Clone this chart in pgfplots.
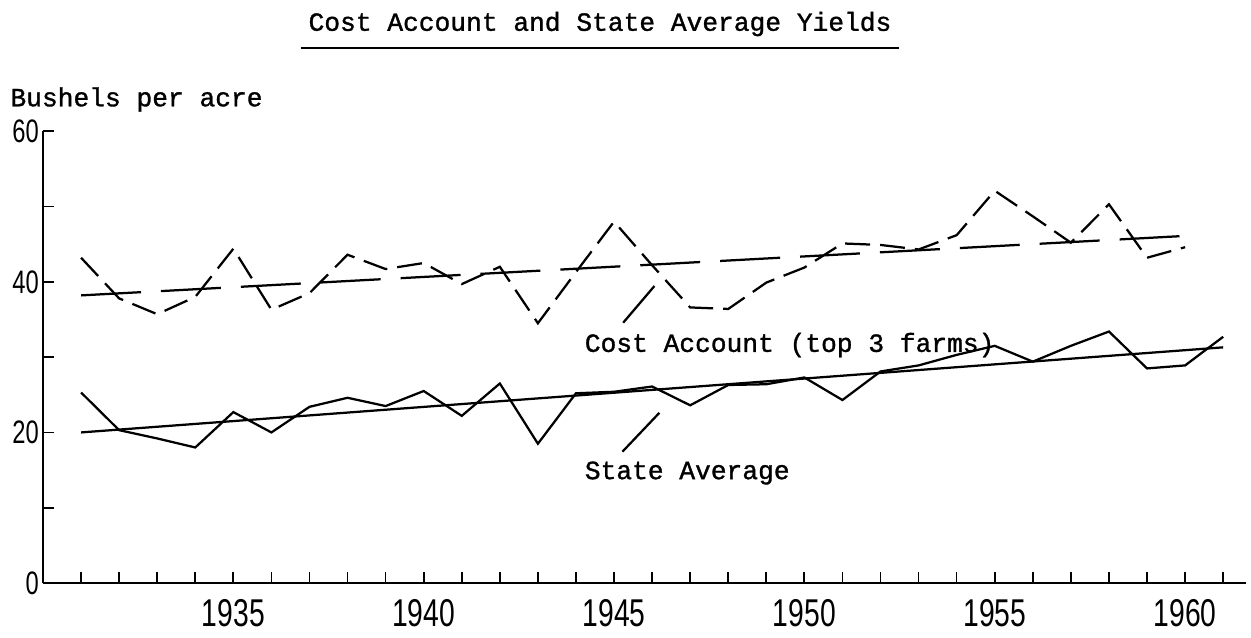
\documentclass[border=0pt]{standalone}
\usepackage{fontspec}
\setmainfont[FakeBold=1.2]{Liberation Mono}
\newfontfamily\tickfont[FakeStretch=0.73]{Liberation Sans}
\usepackage{pgfplots}
\usepackage{pgfplotstable}
\pgfplotsset{compat=1.18}

\pgfplotstableread{
year val
1931 25.3
1932 20.3
1933 19.2
1934 18.0
1935 22.7
1936 20.0
1937 23.4
1938 24.6
1939 23.5
1940 25.5
1941 22.2
1942 26.5
1943 18.5
1944 25.2
1945 25.4
1946 26.1
1947 23.6
1948 26.3
1949 26.4
1950 27.3
1951 24.3
1952 28.1
1953 28.9
1954 30.3
1955 31.5
1956 29.4
1957 31.5
1958 33.4
1959 28.5
1960 28.9
1961 32.7
}\stateavg

\pgfplotstableread{
year val
1931 43.2
1932 37.8
1933 35.7
1934 38.0
1935 44.4
1936 36.3
1937 38.5
1938 43.6
1939 41.7
1940 42.5
1941 39.7
1942 42.0
1943 34.5
1944 41.3
1945 48.0
1946 42.2
1947 36.6
1948 36.4
1949 39.9
1950 41.9
1951 45.1
1952 44.9
1953 44.3
1954 46.2
1955 52.1
1956 48.7
1957 45.2
1958 50.3
1959 43.2
1960 44.6
}\costacct

\begin{document}
\begin{tikzpicture}
\useasboundingbox (0,0) rectangle (500.4pt,254.8pt);
\begin{axis}[
  at={(17.2pt,21.6pt)}, anchor=south west,
  scale only axis, width=481.2pt, height=180.7pt,
  xmin=1930, xmax=1961.6, ymin=0, ymax=60,
  axis lines=left, axis line style={-, line width=0.8pt},
  clip=false,
  tick align=inside,
  major tick length=4.6pt, minor tick length=4.6pt,
  tick style={line width=0.7pt, black},
  xtick={1935,1940,...,1960}, minor xtick={1931,...,1961},
  ytick={0,20,40,60}, minor ytick={10,30,50},
  /pgf/number format/assume math mode=true,
  /pgf/number format/1000 sep={},
  xticklabel style={font=\tickfont\fontsize{15.5}{16}\selectfont, yshift=-3pt},
  yticklabel style={font=\tickfont\fontsize{13}{14}\selectfont, inner sep=0.5pt, xshift=-1pt},
]
\addplot[black, line width=0.9pt, line join=miter] table[x=year,y=val] {\stateavg};
\addplot[black, line width=0.9pt] coordinates {(1931,20.0) (1961,31.3)};
\addplot[black, line width=0.9pt, dash pattern=on 10pt off 4pt] table[x=year,y=val] {\costacct};
\addplot[black, line width=0.9pt, dash pattern=on 24pt off 8pt] coordinates {(1931,38.2) (1960,46.1)};
% label pointers
\addplot[black, line width=0.9pt] coordinates {(1945.22,17.44) (1946.19,22.6)};
\addplot[black, line width=0.9pt] coordinates {(1945.24,34.57) (1946.06,39.44)};
\node[anchor=west, inner sep=0pt, font=\fontsize{10.5}{12}\selectfont] at (axis cs:1944.22,31.6) {Cost Account (top 3 farms)};
\node[anchor=west, inner sep=0pt, font=\fontsize{10.5}{12}\selectfont] at (axis cs:1944.22,14.6) {State Average};
\end{axis}
\node[inner sep=0pt, font=\fontsize{10.5}{12}\selectfont] (title) at (240pt,245.2pt) {Cost Account and State Average Yields};
\draw[line width=1.1pt] ([xshift=-3pt,yshift=-4.5pt]title.south west) -- ([xshift=3pt,yshift=-4.5pt]title.south east);
\node[anchor=west, inner sep=0pt, font=\fontsize{10.5}{12}\selectfont] at (4pt,215pt) {Bushels per acre};
\end{tikzpicture}
\end{document}
